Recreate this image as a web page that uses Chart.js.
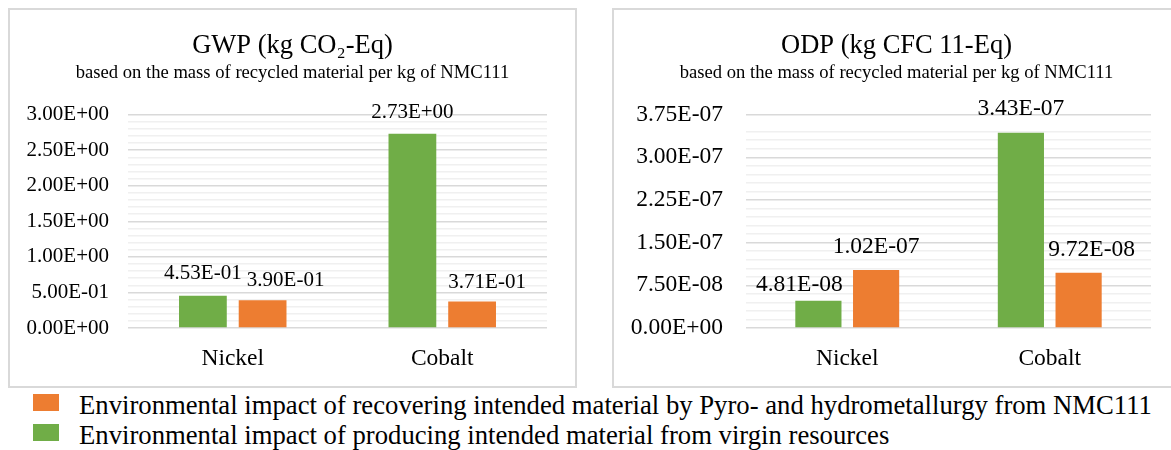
<!DOCTYPE html>
<html>
<head>
<meta charset="utf-8">
<script src="https://cdn.jsdelivr.net/npm/chart.js@4.4.0/dist/chart.umd.min.js"></script>
<style>
body{margin:0;background:#fff;width:1171px;height:450px;overflow:hidden;position:relative;font-family:"Liberation Serif","Times New Roman",serif;}
.caja{position:absolute;top:8px;width:565px;height:376px;border:2px solid #d9d9d9;}
#caja-gwp{left:8px;}
#caja-odp{left:612px;}
.caja canvas{display:block;}
#leyenda{position:absolute;left:33px;top:390px;font-size:26.7px;color:#000;}
.item{height:30px;line-height:30px;display:flex;white-space:nowrap;}
.cuadro{width:26px;height:17px;margin-top:4px;margin-right:20px;flex:none;}
</style>
</head>
<body>
<div class="caja" id="caja-gwp"><canvas id="grafica-gwp" width="565" height="376"></canvas></div>
<div class="caja" id="caja-odp"><canvas id="grafica-odp" width="565" height="376"></canvas></div>
<div id="leyenda"></div>
<script>
//------- datos
var categorias = ['Nickel', 'Cobalt'];
var gwpVirgen = [0.453, 2.73];
var gwpReciclado = [0.390, 0.371];
var odpVirgen = [4.81e-8, 3.43e-7];
var odpReciclado = [1.02e-7, 9.72e-8];
// eje: maximo, paso de las lineas principales y de las secundarias
var gwpEje = [3.0, 0.5, 0.1];
var odpEje = [3.75e-7, 7.5e-8, 1.5e-8];
var nombreReciclado = 'Environmental impact of recovering intended material by Pyro- and hydrometallurgy from NMC111';
var nombreVirgen = 'Environmental impact of producing intended material from virgin resources';
var colorVirgen = '#70ad47';
var colorReciclado = '#ed7d31';
var fuente = '"Liberation Serif", "Times New Roman", serif';

function formatoCientifico(v){
    var partes = Number(v).toExponential(2).toUpperCase().split('E');
    var exp = parseInt(partes[1], 10);
    var abs = Math.abs(exp);
    return partes[0] + 'E' + (exp < 0 ? '-' : '+') + (abs < 10 ? '0' : '') + abs;
}

function esMayor(v, paso){
    var r = v / paso;
    return Math.abs(r - Math.round(r)) < 1e-6;
}

// etiquetas encima de cada barra (posicion: [dx, distancia sobre la barra])
var etiquetasBarras = {
    id: 'etiquetasBarras',
    afterDatasetsDraw: function(chart, args, opts){
        var ctx = chart.ctx;
        ctx.save();
        ctx.font = opts.tam + 'px ' + fuente;
        ctx.fillStyle = '#000';
        ctx.textAlign = 'center';
        ctx.textBaseline = 'alphabetic';
        chart.data.datasets.forEach(function(ds, i){
            chart.getDatasetMeta(i).data.forEach(function(barra, j){
                var pos = opts.posiciones[i + '-' + j] || [0, 14];
                ctx.fillText(formatoCientifico(ds.data[j]), barra.x + pos[0], barra.y - pos[1]);
            });
        });
        ctx.restore();
    }
};

function crearGrafica(id, titulo, virgen, reciclado, eje, estilo){
    var canvas = document.getElementById(id).getContext('2d');
    return new Chart(canvas, {
        type: 'bar',
        data: {
            labels: categorias,
            datasets: [
                {label: nombreVirgen, data: virgen, backgroundColor: colorVirgen, yAxisID: 'y'},
                {label: nombreReciclado, data: reciclado, backgroundColor: colorReciclado, yAxisID: 'y'}
            ]
        },
        options: {
            responsive: false,
            animation: false,
            categoryPercentage: 0.57,
            barPercentage: 0.8,
            layout: {padding: 0},
            plugins: {
                legend: {display: false},
                tooltip: {enabled: false},
                title: {display: true, text: titulo, color: '#000',
                    font: {family: fuente, size: 26.5, weight: 'normal'}, padding: {top: 20, bottom: 0}},
                subtitle: {display: true, text: 'based on the mass of recycled material per kg of NMC111', color: '#000',
                    font: {family: fuente, size: 18.6, weight: 'normal'}, padding: {top: 0, bottom: 30.5}},
                etiquetasBarras: {tam: estilo.tamEtiquetas, posiciones: estilo.posiciones}
            },
            scales: {
                x: {
                    grid: {display: false},
                    border: {display: false},
                    ticks: {color: '#000', font: {family: fuente, size: 23.5}, padding: 9},
                    afterFit: function(scale){ scale.height = 58; }
                },
                y: {
                    min: 0,
                    max: eje[0],
                    border: {display: false},
                    grid: {
                        drawTicks: false,
                        color: function(c){ return esMayor(c.tick.value, eje[1]) ? '#d9d9d9' : '#f0f0f0'; },
                        lineWidth: 1.5
                    },
                    ticks: {
                        stepSize: eje[2],
                        autoSkip: false,
                        color: '#000',
                        font: {family: fuente, size: estilo.tamTicks},
                        padding: estilo.separacion,
                        callback: function(v){ return esMayor(v, eje[1]) ? formatoCientifico(v) : ''; }
                    },
                    afterFit: function(scale){ scale.width = estilo.anchoEje; }
                },
                // eje vacio a la derecha, solo para dejar el margen sin descentrar el titulo
                margen: {
                    position: 'right',
                    display: true,
                    grid: {display: false},
                    border: {display: false},
                    ticks: {display: false},
                    afterFit: function(scale){ scale.width = 28; }
                }
            }
        },
        plugins: [etiquetasBarras]
    });
}

crearGrafica('grafica-gwp', 'GWP (kg CO\u2082-Eq)', gwpVirgen, gwpReciclado, gwpEje, {
    tamTicks: 21, tamEtiquetas: 21, anchoEje: 118, separacion: 19,
    posiciones: {'0-0': [0, 17], '1-0': [23, 14], '0-1': [0, 16], '1-1': [15, 13.5]}
});
crearGrafica('grafica-odp', 'ODP (kg CFC 11-Eq)', odpVirgen, odpReciclado, odpEje, {
    tamTicks: 23.5, tamEtiquetas: 23.5, anchoEje: 132, separacion: 23,
    posiciones: {'0-0': [-19, 10], '1-0': [0, 16.5], '0-1': [0, 17.5], '1-1': [13, 17]}
});

// leyenda (primero el reciclado, como en la figura)
var leyenda = document.getElementById('leyenda');
[[colorReciclado, nombreReciclado], [colorVirgen, nombreVirgen]].forEach(function(par){
    var item = document.createElement('div');
    item.className = 'item';
    var cuadro = document.createElement('span');
    cuadro.className = 'cuadro';
    cuadro.style.background = par[0];
    var texto = document.createElement('span');
    texto.textContent = par[1];
    item.appendChild(cuadro);
    item.appendChild(texto);
    leyenda.appendChild(item);
});
</script>
</body>
</html>
